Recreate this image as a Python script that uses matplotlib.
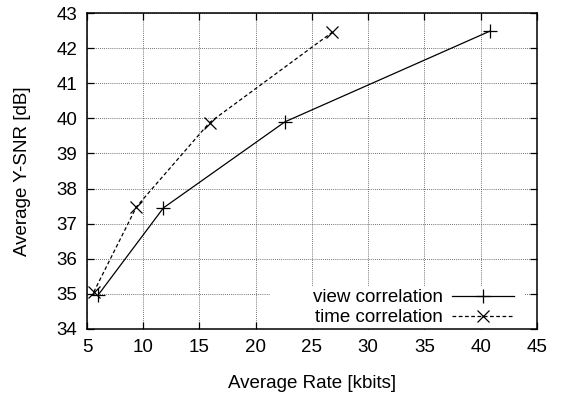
import matplotlib
matplotlib.use("Agg")
import matplotlib.pyplot as plt
from matplotlib.patches import Rectangle

# data
view_rate = [6.0, 11.8, 22.6, 40.8]
view_snr = [34.97, 37.45, 39.9, 42.48]
time_rate = [5.6, 9.4, 15.9, 26.8]
time_snr = [35.05, 37.48, 39.88, 42.45]

plt.rcParams["font.family"] = ["Liberation Sans", "DejaVu Sans"]
FS = 13.5

fig = plt.figure(figsize=(5.61, 3.94), dpi=100)
ax = fig.add_axes([0.155, 0.165, 0.802, 0.802])

ax.plot(view_rate, view_snr, color="black", lw=0.9, marker="+", ms=10,
        mew=0.9, label="view correlation")
ax.plot(time_rate, time_snr, color="black", lw=0.9, ls=(0, (3, 2)),
        marker="x", ms=8, mew=0.9, label="time correlation")

ax.set_xlim(5, 45)
ax.set_ylim(34, 43)
ax.set_xticks(range(5, 46, 5))
ax.set_yticks(range(34, 44))
ax.tick_params(direction="in", top=True, right=True, length=5, width=0.9,
               labelsize=FS, pad=7)
ax.grid(True, color="#444444", ls=(0, (1, 1.5)), lw=0.6)
for s in ax.spines.values():
    s.set_linewidth(1.1)

ax.set_xlabel("Average Rate [kbits]", fontsize=FS, labelpad=14)
ax.set_ylabel("Average Y-SNR [dB]", fontsize=FS, labelpad=18)

# key box blanks the grid behind it, gnuplot style
ax.add_patch(Rectangle((0.407, 0.0), 0.566, 0.133, transform=ax.transAxes,
                       facecolor="white", edgecolor="none", zorder=1.8))

leg = ax.legend(loc="lower right", bbox_to_anchor=(0.955, 0.0),
                markerfirst=False, frameon=False, fontsize=FS,
                handlelength=3.3, borderpad=0.15, labelspacing=0.15,
                handletextpad=0.5, borderaxespad=0.0)

fig.savefig("out.png", dpi=100)
